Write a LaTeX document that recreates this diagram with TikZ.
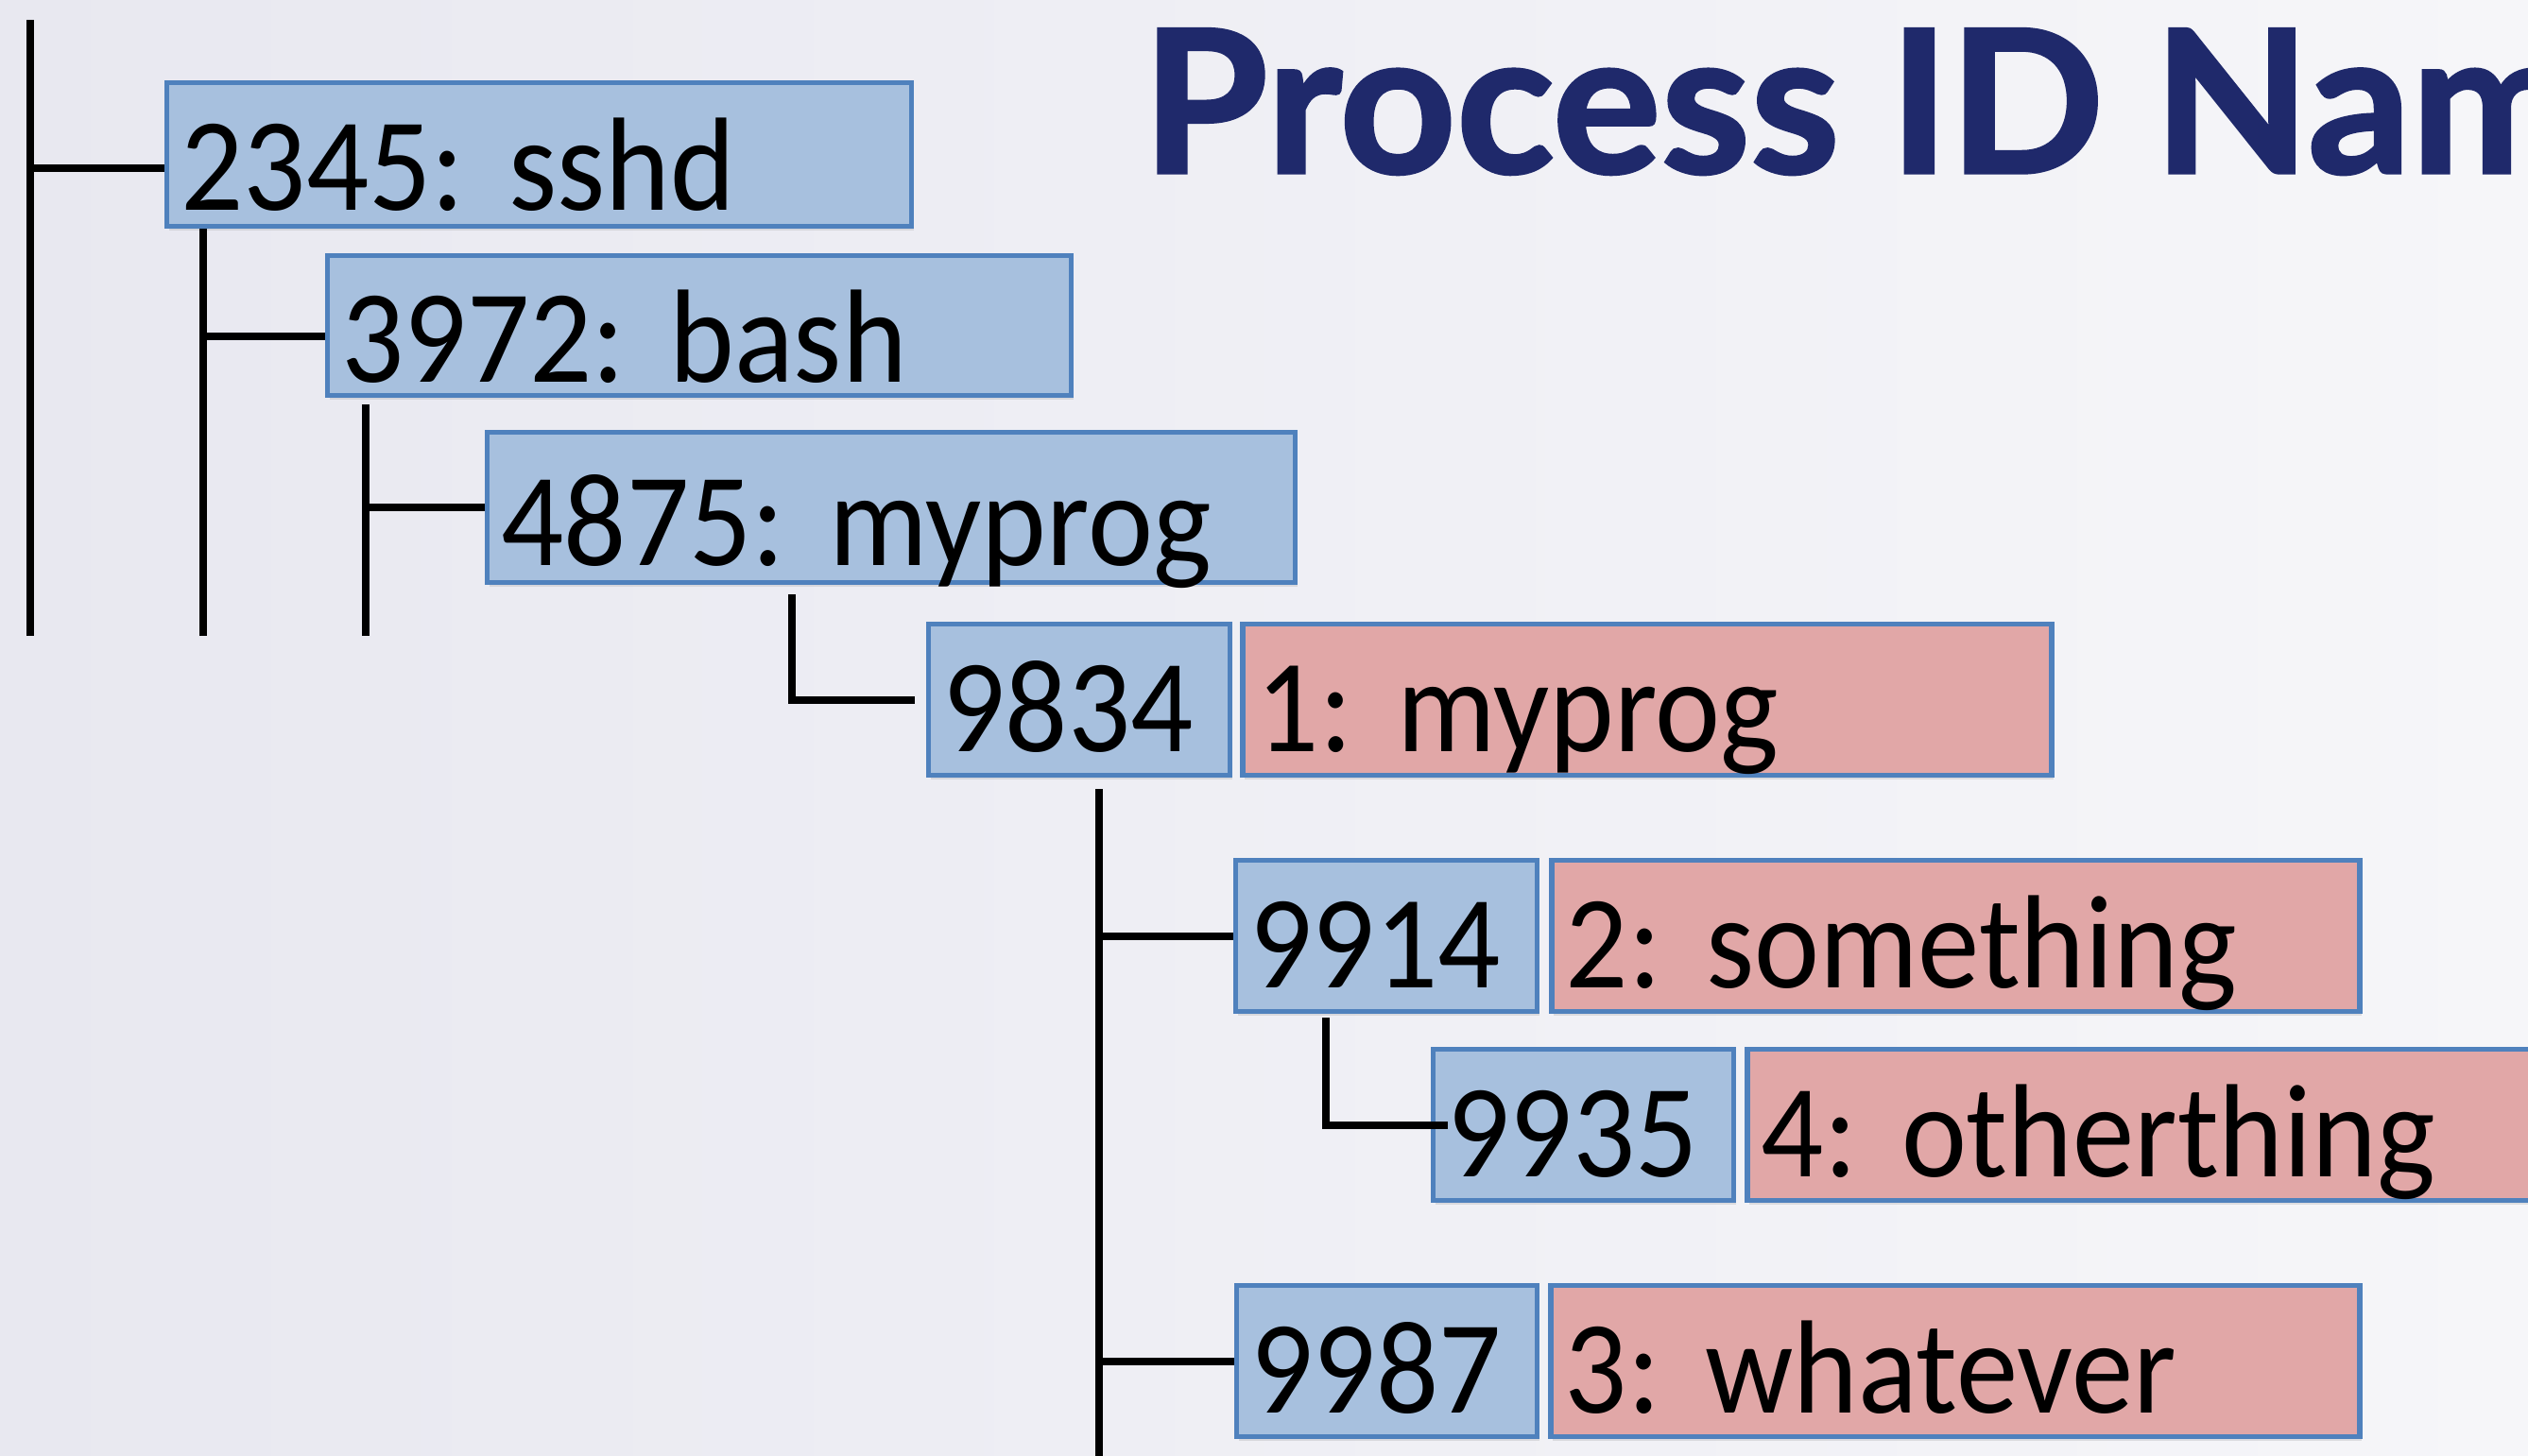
\documentclass[tikz,border=0pt]{standalone}
\usepackage{fontspec}
\setmainfont{Carlito}[FakeStretch=0.93]
\newfontfamily\titlefont{Lato}[FakeStretch=1.02, BoldFeatures={FakeBold=1.6}]
\usetikzlibrary{positioning,calc,shadows}
\definecolor{pidblue}{RGB}{167,192,222}
\definecolor{nspink}{RGB}{225,167,167}
\definecolor{boxedge}{RGB}{79,129,189}
\definecolor{titlenavy}{RGB}{31,41,107}
\definecolor{bgleft}{RGB}{232,232,240}
\definecolor{bgright}{RGB}{246,246,249}
\frenchspacing

\begin{document}
\begin{tikzpicture}[
    pid/.style={rectangle, fill=pidblue, draw=boxedge, line width=1.5pt, anchor=north west,
        inner xsep=0.15cm, inner ysep=0pt, text height=1.35cm, text depth=0.25cm, align=left,
        font=\fontsize{40}{44}\selectfont,
        drop shadow={shadow xshift=0.02cm, shadow yshift=-0.04cm, opacity=0.2}},
    ns/.style={pid, fill=nspink},
    tree/.style={line width=2.2pt}
]
        % Page and backdrop
        \useasboundingbox (0,0) rectangle (26.75,-15.40);
        \clip (0,0) rectangle (26.75,-15.40);
        \fill[left color=bgleft, right color=bgright] (0,0) rectangle (26.75,-15.40);

        \node[font=\titlefont\bfseries\fontsize{60}{60}\selectfont, text=titlenavy, anchor=base west, inner sep=0] (title) at (12.08,-1.83) {Process ID Nam};

        % Parent namespace: global PIDs
        \node[pid, text width=7.58cm, text height=1.35cm, text depth=0.17cm] (sshd) at (1.74,-0.85) {2345: sshd};
        \node[pid, text width=7.57cm, text height=1.34cm, text depth=0.14cm] (bash) at (3.44,-2.68) {3972: bash};
        \node[pid, text width=8.25cm, text height=1.41cm, text depth=0.18cm] (myprog) at (5.13,-4.55) {4875: myprog};

        % Child namespace: global PID next to local PID
        \node[pid, text width=2.89cm] (p9834) at (9.80,-6.58) {9834};
        \node[ns, text width=8.26cm, right=0.08cm of p9834] (ns9834) {1: myprog};
        \node[pid, text width=2.89cm] (p9914) at (13.05,-9.08) {9914};
        \node[ns, text width=8.25cm, right=0.1cm of p9914] (ns9914) {2: something};
        \node[pid, text width=2.88cm] (p9935) at (15.14,-11.08) {9935};
        \node[ns, text width=8.25cm, right=0.09cm of p9935] (ns9935) {4: otherthing};
        \node[pid, text width=2.88cm] (p9987) at (13.06,-13.58) {9987};
        \node[ns, text width=8.26cm, right=0.09cm of p9987] (ns9987) {3: whatever};

        % Tree lines
        \coordinate (rtop) at (0.32,-0.21);
        \coordinate (rbot) at (0.32,-6.73);
        \coordinate (foot) at (0,-15.6);
        \coordinate (sshdin) at ([yshift=-0.14cm]sshd.west);
        \coordinate (bashin) at ([yshift=-0.11cm]bash.west);
        \coordinate (sshdstem) at ([xshift=0.41cm]sshd.south west);
        \coordinate (bashstem) at ([xshift=0.43cm, yshift=-0.07cm]bash.south west);
        \coordinate (mystem) at ([xshift=3.25cm, yshift=-0.1cm]myprog.south west);
        \coordinate (stem9834) at ([xshift=1.83cm, yshift=-0.12cm]p9834.south west);
        \coordinate (stem9914) at ([xshift=0.98cm, yshift=-0.04cm]p9914.south west);

        \draw[tree] (rtop) -- (rbot);
        \draw[tree] (rtop |- sshdin) -- (sshdin);
        \draw[tree] (sshdstem) -- (sshdstem |- rbot);
        \draw[tree] (sshdstem |- bashin) -- (bashin);
        \draw[tree] (bashstem) -- (bashstem |- rbot);
        \draw[tree] (bashstem |- myprog.west) -- (myprog.west);
        \draw[tree, shorten >=0.12cm] (mystem) |- (p9834.west);
        \draw[tree] (stem9834) -- (stem9834 |- foot);
        \draw[tree] (stem9834 |- p9914.west) -- (p9914.west);
        \draw[tree] (stem9834 |- p9987.west) -- (p9987.west);
        \draw[tree] (stem9914) |- ([xshift=0.18cm]p9935.west);
\end{tikzpicture}
\end{document}
